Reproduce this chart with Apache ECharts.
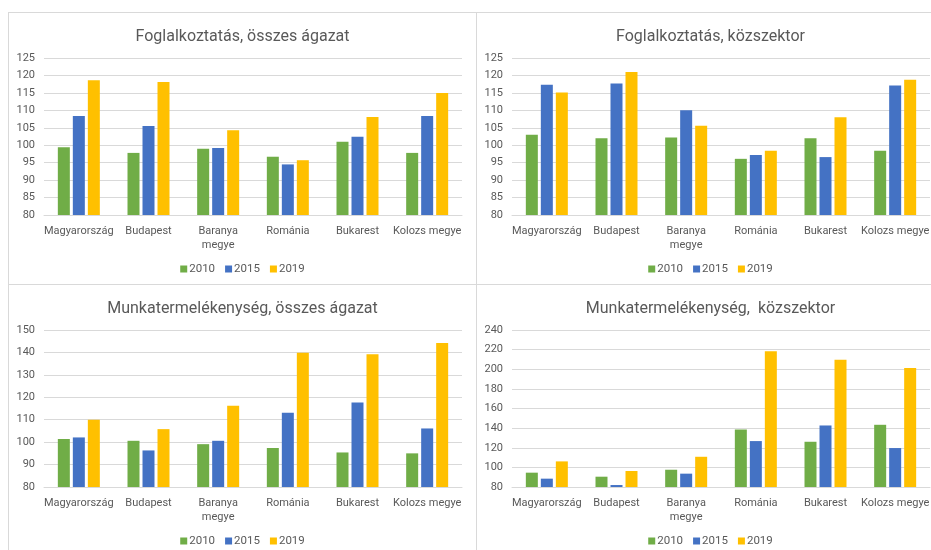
<!DOCTYPE html>
<html>
<head>
<meta charset="utf-8">
<script src="https://cdn.jsdelivr.net/npm/echarts@6/dist/echarts.min.js"></script>
<style>
  html, body { margin: 0; padding: 0; width: 931px; height: 550px; overflow: hidden; background: #ffffff; }
  .panel { position: absolute; box-sizing: border-box; border: 1px solid #d9d9d9; width: 469px; height: 273px; background: #fff; }
</style>
</head>
<body>
<div id="p1" class="panel" style="left:8px; top:12px;"></div>
<div id="p2" class="panel" style="left:476px; top:12px;"></div>
<div id="p3" class="panel" style="left:8px; top:284px;"></div>
<div id="p4" class="panel" style="left:476px; top:284px;"></div>
<script>
const categories = ['Magyarország', 'Budapest', 'Baranya megye', 'Románia', 'Bukarest', 'Kolozs megye'];
const years = ['2010', '2015', '2019'];
const colors = ['#70ad47', '#4472c4', '#ffc000'];

// Foglalkoztatás, összes ágazat
const empAll2010 = [99.4, 97.8, 99.0, 96.7, 101.0, 97.8];
const empAll2015 = [108.4, 105.5, 99.2, 94.5, 102.4, 108.4];
const empAll2019 = [118.6, 118.1, 104.3, 95.7, 108.1, 115.0];

// Foglalkoztatás, közszektor
const empPub2010 = [103.0, 102.0, 102.2, 96.1, 102.0, 98.4];
const empPub2015 = [117.3, 117.7, 110.0, 97.2, 96.6, 117.1];
const empPub2019 = [115.1, 121.0, 105.6, 98.4, 108.0, 118.8];

// Munkatermelékenység, összes ágazat
const prodAll2010 = [101.4, 100.6, 99.1, 97.4, 95.4, 95.0];
const prodAll2015 = [102.1, 96.3, 100.6, 113.1, 117.7, 106.1];
const prodAll2019 = [110.0, 105.8, 116.2, 139.9, 139.2, 144.2];

// Munkatermelékenység, közszektor
const prodPub2010 = [94.6, 90.5, 97.6, 138.6, 126.1, 143.4];
const prodPub2015 = [88.5, 82.0, 93.6, 126.8, 142.7, 119.7];
const prodPub2019 = [106.1, 96.3, 110.8, 218.3, 209.8, 201.4];

const panels = [
  { id: 'p1', title: 'Foglalkoztatás, összes ágazat', min: 80, max: 125, interval: 5, data: [empAll2010, empAll2015, empAll2019] },
  { id: 'p2', title: 'Foglalkoztatás, közszektor', min: 80, max: 125, interval: 5, data: [empPub2010, empPub2015, empPub2019] },
  { id: 'p3', title: 'Munkatermelékenység, összes ágazat', min: 80, max: 150, interval: 10, data: [prodAll2010, prodAll2015, prodAll2019] },
  { id: 'p4', title: 'Munkatermelékenység,  közszektor', min: 80, max: 240, interval: 20, data: [prodPub2010, prodPub2015, prodPub2019] }
];

const FONT = 'Roboto, "Noto Sans", sans-serif';
const TXT = '#595959';

panels.forEach(p => {
  const chart = echarts.init(document.getElementById(p.id), null, { renderer: 'canvas' });
  chart.setOption({
    animation: false,
    backgroundColor: '#ffffff',
    color: colors,
    title: {
      text: p.title,
      left: 'center',
      top: 11,
      textStyle: { fontFamily: FONT, fontSize: 16, fontWeight: 'normal', color: TXT }
    },
    legend: {
      data: years,
      top: 245,
      left: 'center',
      icon: 'rect',
      itemWidth: 7,
      itemHeight: 7,
      itemGap: 10,
      textStyle: { fontFamily: FONT, fontSize: 11.5, color: TXT, padding: [0, 0, 0, -3] }
    },
    grid: { left: 35, top: 45, width: 418, height: 157, containLabel: false },
    xAxis: {
      type: 'category',
      data: categories,
      axisLine: { lineStyle: { color: '#d9d9d9' } },
      axisTick: { show: false },
      axisLabel: {
        interval: 0,
        margin: 9,
        fontFamily: FONT,
        fontSize: 11,
        color: TXT,
        lineHeight: 14,
        formatter: v => v === 'Baranya megye' ? 'Baranya\nmegye' : v
      }
    },
    yAxis: {
      type: 'value',
      min: p.min,
      max: p.max,
      interval: p.interval,
      axisLine: { show: false },
      axisTick: { show: false },
      splitLine: { lineStyle: { color: '#d9d9d9' } },
      axisLabel: { fontFamily: FONT, fontSize: 11, color: TXT, margin: 9 }
    },
    series: years.map((y, i) => ({
      name: y,
      type: 'bar',
      data: p.data[i],
      barWidth: 12,
      barGap: '25%',
      itemStyle: { color: colors[i] }
    }))
  });
});
</script>
</body>
</html>
